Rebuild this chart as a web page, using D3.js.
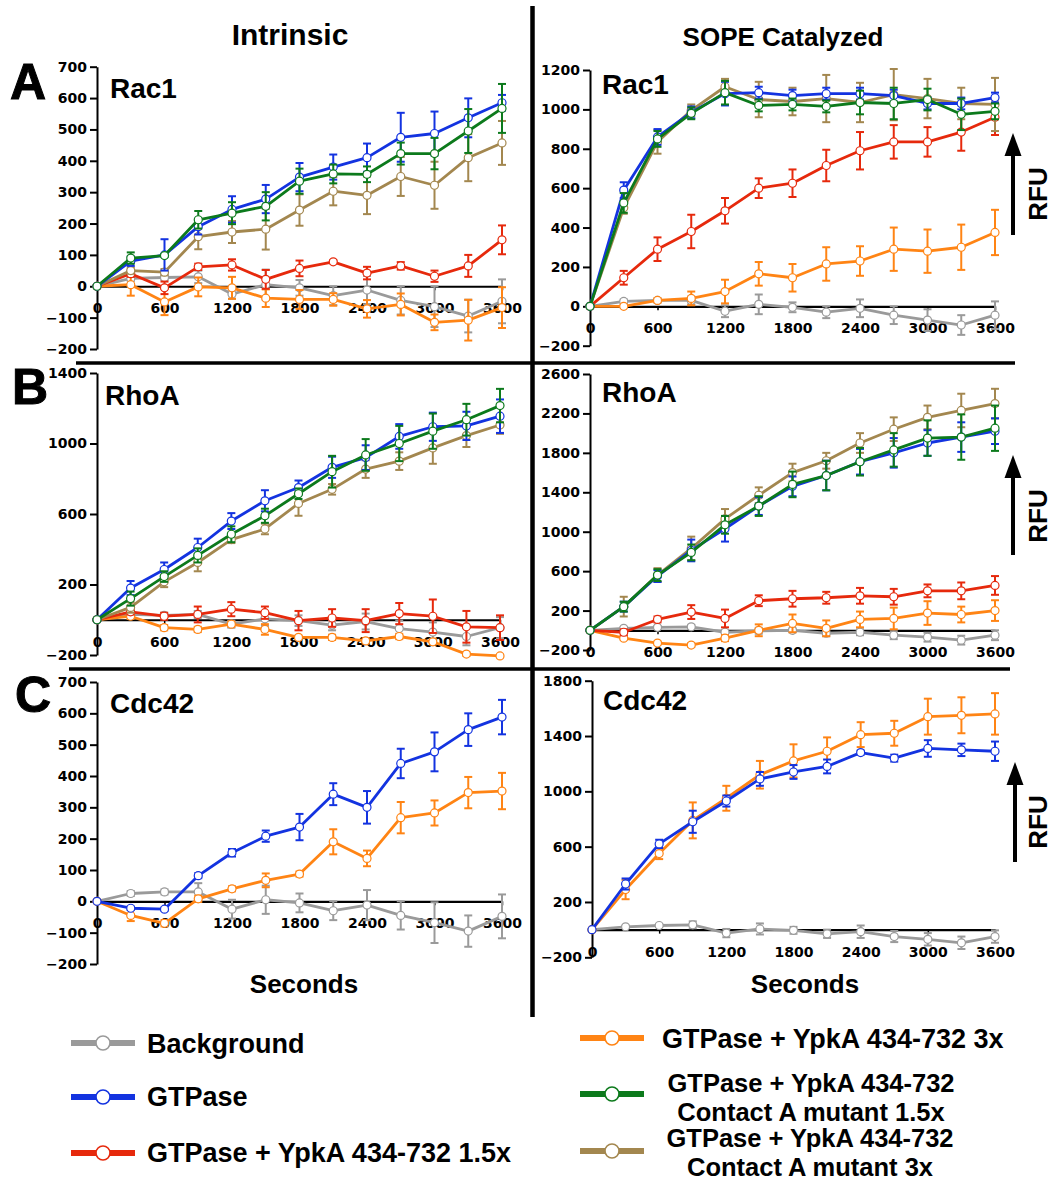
<!DOCTYPE html>
<html>
<head>
<meta charset="utf-8">
<script src="https://cdn.jsdelivr.net/npm/d3@7"></script>
<style>
  body { margin: 0; background: #fff; }
  svg text { font-family: "Liberation Sans", Arial, Helvetica, sans-serif; font-weight: bold; }
  .tick text { font-family: "DejaVu Sans", Verdana, sans-serif; font-weight: bold; font-size: 14px; }
</style>
</head>
<body>
<svg id="fig" width="1053" height="1181"></svg>
<script>
// time points (seconds)
var seconds = [0, 300, 600, 900, 1200, 1500, 1800, 2100, 2400, 2700, 3000, 3300, 3600];
var xTicks = [0, 600, 1200, 1800, 2400, 3000, 3600];

// series order: Background, GTPase, +YpkA 1.5x, +YpkA 3x, mutant 1.5x, mutant 3x
var seriesNames = ["Background", "GTPase", "GTPase + YpkA 434-732 1.5x", "GTPase + YpkA 434-732 3x",
  "GTPase + YpkA 434-732 Contact A mutant 1.5x", "GTPase + YpkA 434-732 Contact A mutant 3x"];
var seriesColors = ["#9a9a9a", "#1333e0", "#e6290c", "#ff8414", "#0c7a1c", "#a3874f"];
var drawOrder = [0, 3, 2, 5, 1, 4];

// y tick labels per panel
var ticksRac1Intrinsic = [-200, -100, 0, 100, 200, 300, 400, 500, 600, 700];
var ticksRac1Sope = [-200, 0, 200, 400, 600, 800, 1000, 1200];
var ticksRhoAIntrinsic = [-200, 200, 600, 1000, 1400];
var ticksRhoASope = [-200, 200, 600, 1000, 1400, 1800, 2200, 2600];
var ticksCdc42Intrinsic = [-200, -100, 0, 100, 200, 300, 400, 500, 600, 700];
var ticksCdc42Sope = [-200, 200, 600, 1000, 1400, 1800];

// A: Rac1 intrinsic
var rac1IntrinsicMean = [
  [0, 25, 28, 30, -25, 5, -5, -30, -12, -45, -65, -95, -48],
  [0, 80, 100, 190, 245, 278, 348, 380, 410, 475, 487, 537, 585],
  [0, 40, -5, 62, 68, 22, 57, 78, 42, 65, 32, 65, 148],
  [0, 5, -50, -2, -5, -38, -42, -42, -72, -58, -115, -108, -68],
  [0, 90, 98, 212, 233, 255, 335, 358, 357, 423, 423, 495, 567],
  [0, 50, 45, 158, 173, 182, 243, 303, 290, 350, 322, 410, 457]
];
var rac1IntrinsicErr = [
  [0, 8, 8, 20, 15, 48, 25, 30, 45, 45, 65, 52, 70],
  [0, 15, 50, 25, 42, 45, 45, 40, 45, 78, 70, 62, 25],
  [0, 10, 20, 10, 18, 30, 25, 5, 20, 12, 18, 35, 46],
  [0, 35, 42, 30, 35, 28, 30, 20, 28, 35, 25, 65, 65],
  [0, 18, 5, 28, 35, 45, 40, 30, 25, 35, 50, 70, 78],
  [0, 10, 10, 40, 35, 65, 50, 45, 60, 62, 75, 75, 70]
];

// A: Rac1 SOPE catalyzed
var rac1SopeMean = [
  [0, 25, 30, 30, -25, 10, -5, -30, -10, -45, -70, -95, -45],
  [0, 590, 860, 985, 1080, 1085, 1070, 1080, 1080, 1070, 1030, 1030, 1060],
  [0, 145, 290, 380, 485, 600, 625, 715, 790, 835, 835, 885, 960],
  [0, 0, 30, 40, 75, 165, 145, 215, 230, 290, 280, 300, 375],
  [0, 525, 850, 980, 1085, 1020, 1025, 1015, 1035, 1030, 1050, 975, 990],
  [0, 500, 835, 995, 1115, 1050, 1040, 1055, 1035, 1075, 1055, 1030, 1025]
];
var rac1SopeErr = [
  [0, 10, 10, 20, 30, 50, 25, 30, 45, 45, 55, 50, 70],
  [0, 40, 40, 30, 60, 30, 30, 30, 30, 30, 30, 30, 25],
  [0, 35, 60, 85, 65, 50, 70, 80, 95, 85, 75, 95, 90],
  [0, 5, 10, 35, 60, 60, 70, 85, 75, 110, 110, 115, 115],
  [0, 50, 40, 30, 60, 30, 30, 30, 60, 80, 55, 80, 40],
  [0, 30, 60, 30, 40, 90, 70, 120, 100, 130, 100, 80, 135]
];

// B: RhoA intrinsic
var rhoAIntrinsicMean = [
  [0, 30, 25, 30, -25, 5, -5, -30, -10, -50, -70, -95, -45],
  [0, 180, 285, 410, 560, 675, 750, 865, 920, 1040, 1095, 1100, 1155],
  [0, 45, 20, 30, 60, 40, -5, 10, -5, 35, 20, -40, -45],
  [0, 20, -45, -55, -25, -55, -100, -100, -120, -95, -125, -195, -205],
  [0, 120, 245, 365, 485, 590, 715, 840, 935, 1000, 1070, 1135, 1215],
  [0, 70, 215, 325, 455, 515, 660, 740, 855, 900, 975, 1045, 1105]
];
var rhoAIntrinsicErr = [
  [0, 10, 10, 20, 20, 40, 30, 30, 45, 45, 55, 50, 60],
  [0, 40, 40, 50, 45, 60, 40, 60, 70, 70, 80, 80, 95],
  [0, 15, 20, 45, 40, 35, 55, 50, 65, 60, 95, 90, 70],
  [0, 15, 15, 15, 15, 30, 10, 15, 15, 15, 15, 10, 8],
  [0, 40, 30, 40, 45, 40, 30, 90, 90, 100, 100, 90, 95],
  [0, 30, 30, 50, 20, 30, 70, 30, 50, 50, 90, 65, 50]
];

// B: RhoA SOPE catalyzed
var rhoASopeMean = [
  [0, 20, 30, 35, -20, -5, 0, -30, -20, -50, -70, -100, -50],
  [0, 240, 550, 810, 1030, 1260, 1460, 1570, 1710, 1800, 1900, 1960, 2020],
  [0, -20, 110, 185, 120, 300, 320, 330, 350, 340, 400, 400, 455],
  [0, -80, -130, -150, -80, 0, 70, 20, 110, 120, 175, 160, 200],
  [0, 240, 560, 790, 1070, 1260, 1480, 1570, 1710, 1830, 1950, 1960, 2050],
  [0, 240, 560, 830, 1130, 1370, 1600, 1720, 1900, 2040, 2160, 2230, 2300]
];
var rhoASopeErr = [
  [0, 10, 10, 20, 20, 30, 20, 30, 30, 40, 45, 45, 50],
  [0, 50, 60, 110, 130, 90, 100, 150, 130, 150, 130, 150, 130],
  [0, 30, 30, 70, 90, 55, 80, 60, 80, 80, 65, 85, 95],
  [0, 15, 15, 20, 30, 60, 90, 80, 80, 110, 120, 80, 105],
  [0, 50, 60, 80, 90, 100, 130, 150, 140, 170, 180, 230, 230],
  [0, 100, 70, 120, 100, 80, 90, 80, 100, 120, 120, 170, 150]
];

// C: Cdc42 intrinsic (only three series)
var cdc42IntrinsicMean = [
  [0, 25, 30, 30, -25, 5, -5, -30, -12, -45, -68, -95, -48],
  [0, -22, -25, 82, 155, 208, 237, 342, 300, 440, 477, 548, 588],
  null,
  [0, -45, -70, 8, 40, 67, 87, 190, 137, 267, 282, 347, 352],
  null,
  null
];
var cdc42IntrinsicErr = [
  [0, 8, 8, 28, 30, 45, 30, 30, 48, 45, 65, 50, 70],
  [0, 5, 5, 8, 12, 18, 42, 35, 52, 47, 62, 52, 55],
  null,
  [0, 18, 10, 10, 8, 22, 8, 40, 25, 50, 40, 50, 58],
  null,
  null
];

// C: Cdc42 SOPE catalyzed
var cdc42SopeMean = [
  [0, 20, 30, 35, -25, 5, -5, -30, -15, -50, -70, -95, -50],
  [0, 330, 620, 780, 930, 1090, 1140, 1180, 1280, 1240, 1310, 1300, 1290],
  null,
  [0, 290, 550, 790, 950, 1120, 1220, 1290, 1410, 1420, 1540, 1550, 1560],
  null,
  null
];
var cdc42SopeErr = [
  [0, 8, 8, 25, 30, 40, 25, 30, 45, 40, 45, 45, 45],
  [0, 40, 30, 80, 40, 50, 50, 50, 15, 25, 60, 45, 70],
  null,
  [0, 70, 40, 130, 90, 100, 120, 100, 90, 90, 130, 130, 150],
  null,
  null
];

var svg = d3.select("#fig");

// panel layout
var panels = [
  {title: "Rac1", mean: rac1IntrinsicMean, err: rac1IntrinsicErr, ticks: ticksRac1Intrinsic,
   x0: 97, x1: 502, yTop: 66.7, yBot: 349, lx: 110, ly: 98, rfu: null},
  {title: "Rac1", mean: rac1SopeMean, err: rac1SopeErr, ticks: ticksRac1Sope,
   x0: 590, x1: 995, yTop: 70, yBot: 345.7, lx: 602, ly: 94, rfu: {x: 1013, tip: 133, bot: 235, ty: 194}},
  {title: "RhoA", mean: rhoAIntrinsicMean, err: rhoAIntrinsicErr, ticks: ticksRhoAIntrinsic,
   x0: 97, x1: 500, yTop: 373, yBot: 655, lx: 105, ly: 405, rfu: null},
  {title: "RhoA", mean: rhoASopeMean, err: rhoASopeErr, ticks: ticksRhoASope,
   x0: 590, x1: 995, yTop: 374, yBot: 650, lx: 602, ly: 402, rfu: {x: 1013, tip: 455, bot: 555, ty: 516}},
  {title: "Cdc42", mean: cdc42IntrinsicMean, err: cdc42IntrinsicErr, ticks: ticksCdc42Intrinsic,
   x0: 97, x1: 502, yTop: 682, yBot: 964, lx: 110, ly: 713, rfu: null},
  {title: "Cdc42", mean: cdc42SopeMean, err: cdc42SopeErr, ticks: ticksCdc42Sope,
   x0: 592, x1: 995, yTop: 680.7, yBot: 957.3, lx: 603, ly: 710, rfu: {x: 1015, tip: 762, bot: 862, ty: 822}}
];

panels.forEach(function(p){
  var x = d3.scaleLinear().domain([0, 3600]).range([p.x0, p.x1]);
  var ticks = p.ticks;
  var y = d3.scaleLinear().domain([ticks[0], ticks[ticks.length - 1]]).range([p.yBot, p.yTop]);
  var g = svg.append("g");

  // y axis
  var ya = g.append("g").attr("transform", "translate(" + p.x0 + ",0)")
    .call(d3.axisLeft(y).tickValues(ticks).tickSize(7).tickSizeOuter(0).tickPadding(3).tickFormat(d3.format("d")));
  ya.select(".domain").attr("stroke-width", 2);
  ya.selectAll(".tick line").attr("stroke-width", 2);

  // x axis at zero
  var xa = g.append("g").attr("transform", "translate(0," + y(0) + ")")
    .call(d3.axisBottom(x).tickValues(xTicks).tickSize(4).tickSizeOuter(0).tickPadding(13).tickFormat(d3.format("d")));
  xa.select(".domain").attr("stroke-width", 2.2);
  xa.selectAll(".tick line").attr("stroke-width", 1.5);

  var line = d3.line().x(function(d){ return x(d[0]); }).y(function(d){ return y(d[1]); });

  drawOrder.forEach(function(si){
    var m = p.mean[si];
    if (!m) return;
    var e = p.err[si];
    var col = seriesColors[si];
    var pts = seconds.map(function(s, i){ return [s, m[i], e[i]]; });
    var s = g.append("g");

    // error bars
    var eb = s.selectAll("g.eb").data(pts.filter(function(d){ return d[2] > 0; }))
      .enter().append("g").attr("stroke", col).attr("stroke-width", 2);
    eb.append("line")
      .attr("x1", function(d){ return x(d[0]); }).attr("x2", function(d){ return x(d[0]); })
      .attr("y1", function(d){ return y(d[1] - d[2]); }).attr("y2", function(d){ return y(d[1] + d[2]); });
    eb.append("line")
      .attr("x1", function(d){ return x(d[0]) - 4; }).attr("x2", function(d){ return x(d[0]) + 4; })
      .attr("y1", function(d){ return y(d[1] + d[2]); }).attr("y2", function(d){ return y(d[1] + d[2]); });
    eb.append("line")
      .attr("x1", function(d){ return x(d[0]) - 4; }).attr("x2", function(d){ return x(d[0]) + 4; })
      .attr("y1", function(d){ return y(d[1] - d[2]); }).attr("y2", function(d){ return y(d[1] - d[2]); });

    s.append("path").datum(pts).attr("d", line)
      .attr("fill", "none").attr("stroke", col).attr("stroke-width", 2.8).attr("stroke-linejoin", "round");

    s.selectAll("circle").data(pts).enter().append("circle")
      .attr("cx", function(d){ return x(d[0]); }).attr("cy", function(d){ return y(d[1]); })
      .attr("r", 4).attr("fill", "#fff").attr("stroke", col).attr("stroke-width", 1.2);
  });

  g.append("text").attr("x", p.lx).attr("y", p.ly).attr("font-size", 28).text(p.title);

  if (p.rfu) {
    var r = p.rfu;
    g.append("line").attr("x1", r.x).attr("x2", r.x).attr("y1", r.bot).attr("y2", r.tip + 18)
      .attr("stroke", "#000").attr("stroke-width", 4);
    g.append("path").attr("d", "M" + r.x + "," + r.tip + "L" + (r.x - 8.5) + "," + (r.tip + 23) + "L" + (r.x + 8.5) + "," + (r.tip + 23) + "Z")
      .attr("fill", "#000");
    g.append("text").attr("transform", "translate(1047," + r.ty + ") rotate(-90)")
      .attr("text-anchor", "middle").attr("font-size", 26).text("RFU");
  }
});

// column headers
svg.append("text").attr("x", 290).attr("y", 45).attr("text-anchor", "middle").attr("font-size", 30).text("Intrinsic");
svg.append("text").attr("x", 783).attr("y", 46).attr("text-anchor", "middle").attr("font-size", 26).text("SOPE Catalyzed");

// row letters
[["A", 10, 99], ["B", 12, 404], ["C", 15, 712]].forEach(function(l){
  svg.append("text").attr("x", l[1]).attr("y", l[2])
    .attr("font-size", 50).attr("stroke", "#000").attr("stroke-width", 1).text(l[0]);
});

// x-axis titles
svg.append("text").attr("x", 304).attr("y", 993).attr("text-anchor", "middle").attr("font-size", 26).text("Seconds");
svg.append("text").attr("x", 805).attr("y", 993).attr("text-anchor", "middle").attr("font-size", 26).text("Seconds");

// divider lines
svg.append("line").attr("x1", 532.5).attr("x2", 532.5).attr("y1", 6).attr("y2", 1017).attr("stroke", "#000").attr("stroke-width", 4.5);
svg.append("line").attr("x1", 76).attr("x2", 1015).attr("y1", 363).attr("y2", 363).attr("stroke", "#000").attr("stroke-width", 3.5);
svg.append("line").attr("x1", 69).attr("x2", 1010).attr("y1", 669).attr("y2", 669).attr("stroke", "#000").attr("stroke-width", 3.5);

// legend
var legendRows = [
  {si: 0, lx: 71, ly: 1043, tx: 147, ty: 1053, anchor: "start", fs: 27},
  {si: 1, lx: 71, ly: 1097, tx: 147, ty: 1106, anchor: "start", fs: 27},
  {si: 2, lx: 71, ly: 1153, tx: 147, ty: 1162, anchor: "start", fs: 27},
  {si: 3, lx: 580, ly: 1038, tx: 662, ty: 1048, anchor: "start", fs: 27},
  {si: 4, lx: 580, ly: 1094, tx: 811, ty: 1092, anchor: "middle", fs: 25.5},
  {si: 5, lx: 580, ly: 1151, tx: 810, ty: 1147, anchor: "middle", fs: 25.5}
];
var legendText = [
  ["Background"],
  ["GTPase"],
  ["GTPase + YpkA 434-732 1.5x"],
  ["GTPase + YpkA 434-732 3x"],
  ["GTPase + YpkA 434-732", "Contact A mutant 1.5x"],
  ["GTPase + YpkA 434-732", "Contact A mutant 3x"]
];
legendRows.forEach(function(r){
  var col = seriesColors[r.si];
  svg.append("line").attr("x1", r.lx).attr("x2", r.lx + 64).attr("y1", r.ly).attr("y2", r.ly)
    .attr("stroke", col).attr("stroke-width", 6);
  svg.append("circle").attr("cx", r.lx + 32).attr("cy", r.ly).attr("r", 7)
    .attr("fill", "#fff").attr("stroke", col).attr("stroke-width", 1.6);
  var t = svg.append("text").attr("x", r.tx).attr("y", r.ty).attr("text-anchor", r.anchor)
    .attr("font-size", r.fs);
  legendText[r.si].forEach(function(s, i){
    t.append("tspan").attr("x", r.tx).attr("dy", i === 0 ? 0 : 28.5).text(s);
  });
});
</script>
</body>
</html>
